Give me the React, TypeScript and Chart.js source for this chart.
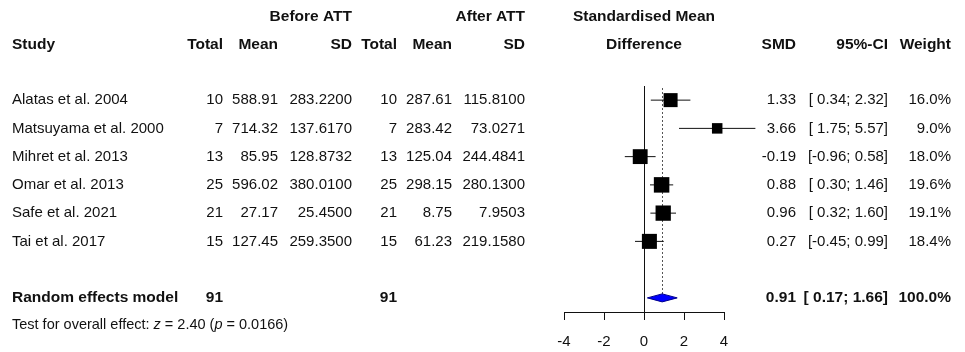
import React, { useEffect, useRef } from "react";
import { Chart, registerables } from "chart.js";
Chart.register(...registerables);

const studies = ["Alatas et al. 2004", "Matsuyama et al. 2000", "Mihret et al. 2013", "Omar et al. 2013", "Safe et al. 2021", "Tai et al. 2017"];
const beforeTotal = [10, 7, 13, 25, 21, 15];
const beforeMean = ["588.91", "714.32", "85.95", "596.02", "27.17", "127.45"];
const beforeSD = ["283.2200", "137.6170", "128.8732", "380.0100", "25.4500", "259.3500"];
const afterTotal = [10, 7, 13, 25, 21, 15];
const afterMean = ["287.61", "283.42", "125.04", "298.15", "8.75", "61.23"];
const afterSD = ["115.8100", "73.0271", "244.4841", "280.1300", "7.9503", "219.1580"];
const smd = [1.33, 3.66, -0.19, 0.88, 0.96, 0.27];
const ciLower = [0.34, 1.75, -0.96, 0.3, 0.32, -0.45];
const ciUpper = [2.32, 5.57, 0.58, 1.46, 1.6, 0.99];
const weights = [16.0, 9.0, 18.0, 19.6, 19.1, 18.4];
const pooledSmd = 0.91;
const pooledLower = 0.17;
const pooledUpper = 1.66;
const pooledWeight = 100.0;
const pooledTotalBefore = 91;
const pooledTotalAfter = 91;
const xTicks = [-4, -2, 0, 2, 4];
const testZ = "2.40";
const testP = "0.0166";

const FONT = "'Liberation Sans', Arial, sans-serif";
const FS = 15;
const FSB = 15.5;
const COL = {
  study: 12,
  total1: 223,
  mean1: 278,
  sd1: 352,
  total2: 397,
  mean2: 452,
  sd2: 525,
  smd: 796,
  ci: 888,
  weight: 951,
};
const POOLED_ROW = studies.length + 1;

const fmtCI = (lo: number, hi: number) => {
  const p = (v: number) => (v >= 0 ? " " : "") + v.toFixed(2);
  return `[${p(lo)}; ${hi.toFixed(2)}]`;
};

export default function App() {
  const ref = useRef<HTMLCanvasElement | null>(null);
  useEffect(() => {
    const canvas = ref.current!;
    const textPlugin = {
      id: "forestText",
      beforeDraw(chart: any) {
        const ctx = chart.ctx;
        ctx.save();
        ctx.fillStyle = "#fff";
        ctx.fillRect(0, 0, chart.width, chart.height);
        ctx.restore();
      },
      afterDraw(chart: any) {
        const ctx: CanvasRenderingContext2D = chart.ctx;
        const xs = chart.scales.x;
        const ys = chart.scales.y;
        const py = (r: number) => ys.getPixelForValue(r);
        const px = (v: number) => xs.getPixelForValue(v);
        ctx.save();
        ctx.fillStyle = "#111";
        ctx.textBaseline = "middle";
        const txt = (s: string, x: number, y: number, align: CanvasTextAlign, bold = false, size = FS) => {
          ctx.font = `${bold ? "bold " : ""}${bold ? FSB : size}px ${FONT}`;
          ctx.textAlign = align;
          ctx.fillText(s, x, y);
        };
        // headers
        const h1 = py(-2.95);
        const h2 = py(-1.95);
        txt("Before ATT", COL.sd1, h1, "right", true);
        txt("After ATT", COL.sd2, h1, "right", true);
        txt("Standardised Mean", px(0), h1, "center", true);
        txt("Study", COL.study, h2, "left", true);
        txt("Total", COL.total1, h2, "right", true);
        txt("Mean", COL.mean1, h2, "right", true);
        txt("SD", COL.sd1, h2, "right", true);
        txt("Total", COL.total2, h2, "right", true);
        txt("Mean", COL.mean2, h2, "right", true);
        txt("SD", COL.sd2, h2, "right", true);
        txt("Difference", px(0), h2, "center", true);
        txt("SMD", COL.smd, h2, "right", true);
        txt("95%-CI", COL.ci, h2, "right", true);
        txt("Weight", COL.weight, h2, "right", true);
        // rows
        studies.forEach((s, i) => {
          const y = py(i);
          txt(s, COL.study, y, "left");
          txt(String(beforeTotal[i]), COL.total1, y, "right");
          txt(beforeMean[i], COL.mean1, y, "right");
          txt(beforeSD[i], COL.sd1, y, "right");
          txt(String(afterTotal[i]), COL.total2, y, "right");
          txt(afterMean[i], COL.mean2, y, "right");
          txt(afterSD[i], COL.sd2, y, "right");
          txt(smd[i].toFixed(2), COL.smd, y, "right");
          txt(fmtCI(ciLower[i], ciUpper[i]), COL.ci, y, "right");
          txt(weights[i].toFixed(1) + "%", COL.weight, y, "right");
        });
        const yp = py(POOLED_ROW);
        txt("Random effects model", COL.study, yp, "left", true);
        txt(String(pooledTotalBefore), COL.total1, yp, "right", true);
        txt(String(pooledTotalAfter), COL.total2, yp, "right", true);
        txt(pooledSmd.toFixed(2), COL.smd, yp, "right", true);
        txt(fmtCI(pooledLower, pooledUpper), COL.ci, yp, "right", true);
        txt(pooledWeight.toFixed(1) + "%", COL.weight, yp, "right", true);
        // test line with italics
        const yt = py(POOLED_ROW + 0.95);
        const parts: [string, boolean][] = [
          ["Test for overall effect: ", false],
          ["z", true],
          [` = ${testZ} (`, false],
          ["p", true],
          [` = ${testP})`, false],
        ];
        let x = COL.study;
        ctx.textAlign = "left";
        parts.forEach(([s, it]) => {
          ctx.font = `${it ? "italic " : ""}14.5px ${FONT}`;
          ctx.fillText(s, x, yt);
          x += ctx.measureText(s).width;
        });
        // x axis
        const axY = chart.chartArea.bottom;
        ctx.strokeStyle = "#111";
        ctx.lineWidth = 1;
        ctx.beginPath();
        ctx.moveTo(Math.round(px(xTicks[0])) + 0.5, axY + 0.5);
        ctx.lineTo(Math.round(px(xTicks[xTicks.length - 1])) + 0.5, axY + 0.5);
        xTicks.forEach((t) => {
          const tx = Math.round(px(t)) + 0.5;
          ctx.moveTo(tx, axY);
          ctx.lineTo(tx, axY + 8);
        });
        ctx.stroke();
        xTicks.forEach((t) => txt(String(t), px(t), axY + 30, "center"));
        ctx.restore();
      },
      beforeDatasetsDraw(chart: any) {
        const ctx: CanvasRenderingContext2D = chart.ctx;
        const xs = chart.scales.x;
        const ys = chart.scales.y;
        const top = chart.chartArea.top;
        const bottom = chart.chartArea.bottom;
        ctx.save();
        // line of no effect
        const x0 = Math.round(xs.getPixelForValue(0)) + 0.5;
        ctx.strokeStyle = "#111";
        ctx.lineWidth = 1;
        ctx.beginPath();
        ctx.moveTo(x0, top);
        ctx.lineTo(x0, bottom);
        ctx.stroke();
        // pooled dotted line
        const xp = Math.round(xs.getPixelForValue(pooledSmd)) + 0.5;
        ctx.strokeStyle = "#555";
        ctx.setLineDash([2, 2]);
        ctx.beginPath();
        ctx.moveTo(xp, top + 2);
        ctx.lineTo(xp, ys.getPixelForValue(POOLED_ROW) - 4);
        ctx.stroke();
        ctx.setLineDash([]);
        // diamond
        const yd = ys.getPixelForValue(POOLED_ROW);
        ctx.beginPath();
        ctx.moveTo(xs.getPixelForValue(pooledLower), yd);
        ctx.lineTo(xs.getPixelForValue(pooledSmd), yd - 4);
        ctx.lineTo(xs.getPixelForValue(pooledUpper), yd);
        ctx.lineTo(xs.getPixelForValue(pooledSmd), yd + 4);
        ctx.closePath();
        ctx.fillStyle = "#0000ff";
        ctx.fill();
        ctx.strokeStyle = "#00008b";
        ctx.stroke();
        ctx.restore();
      },
    };

    const ciSets = studies.map((s, i) => ({
      type: "line" as const,
      label: s + " CI",
      data: [
        { x: ciLower[i], y: i },
        { x: ciUpper[i], y: i },
      ],
      borderColor: "#111",
      borderWidth: 1,
      pointRadius: 0,
      showLine: true,
      clip: false as any,
      order: 2,
    }));

    const chart = new Chart(canvas, {
      type: "scatter",
      data: {
        datasets: [
          {
            type: "scatter",
            label: "SMD",
            data: smd.map((v, i) => ({ x: v, y: i })),
            pointStyle: "rect",
            pointRadius: weights.map((w) => (3.5 * Math.sqrt(w)) / (2 * Math.SQRT1_2)),
            backgroundColor: "#000",
            borderColor: "#000",
            borderWidth: 0,
            clip: false as any,
            order: 1,
          } as any,
          ...ciSets,
        ],
      },
      options: {
        animation: false,
        responsive: false,
        events: [],
        layout: { padding: { left: 564, right: 241, top: 86, bottom: 40 } },
        plugins: { legend: { display: false }, tooltip: { enabled: false } },
        scales: {
          x: { type: "linear", min: -4, max: 4, display: false },
          y: { type: "linear", min: -0.5, max: POOLED_ROW + 0.5, reverse: true, display: false },
        },
      },
      plugins: [textPlugin],
    });
    return () => chart.destroy();
  }, []);
  return (
    <>
      <style>{"body{margin:0;background:#fff}"}</style>
      <canvas ref={ref} width={965} height={352} style={{ display: "block", width: 965, height: 352 }} />
    </>
  );
}
